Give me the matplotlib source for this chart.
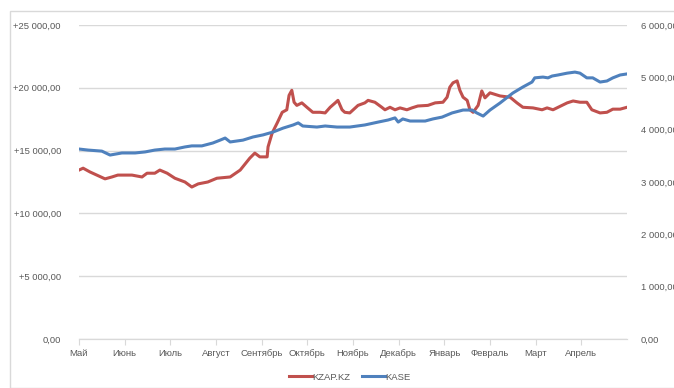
import matplotlib
matplotlib.use("Agg")
import matplotlib.pyplot as plt
from matplotlib.patches import Rectangle
from matplotlib.ticker import FuncFormatter, FixedLocator

# Months (tick labels), x positions are months since 1 May
months = ["Май", "Июнь", "Июль", "Август", "Сентябрь", "Октябрь",
          "Ноябрь", "Декабрь", "Январь", "Февраль", "Март", "Апрель"]

# KZAP.KZ (left axis)
kzap_x = [0.00, 0.09, 0.24, 0.39, 0.57, 0.72, 0.85, 1.16, 1.38, 1.49, 1.66, 1.77,
          1.93, 2.10, 2.32, 2.47, 2.61, 2.82, 3.02, 3.31, 3.53, 3.74, 3.85, 3.96,
          4.12, 4.14, 4.23, 4.34, 4.45, 4.55, 4.60, 4.66, 4.71, 4.77, 4.88, 4.99,
          5.12, 5.28, 5.39, 5.50, 5.61, 5.67, 5.76, 5.82, 5.93, 6.11, 6.26, 6.33,
          6.48, 6.63, 6.70, 6.81, 6.92, 7.03, 7.18, 7.29, 7.42, 7.64, 7.80, 7.97,
          8.06, 8.12, 8.19, 8.28, 8.34, 8.41, 8.50, 8.56, 8.63, 8.74, 8.82, 8.89,
          9.00, 9.22, 9.44, 9.59, 9.72, 9.94, 10.14, 10.25, 10.38, 10.69, 10.82,
          10.97, 11.12, 11.23, 11.41, 11.56, 11.69, 11.85, 12.00]
kzap = [13450, 13600, 13300, 13050, 12750, 12900, 13050, 13050, 12900, 13200, 13200, 13450,
        13200, 12800, 12500, 12100, 12350, 12500, 12800, 12900, 13450, 14400, 14800, 14500,
        14500, 15300, 16400, 17200, 18050, 18250, 19400, 19800, 18850, 18600, 18800, 18450,
        18050, 18050, 18000, 18450, 18800, 19000, 18250, 18050, 18000, 18600, 18800, 19000,
        18850, 18450, 18250, 18450, 18250, 18400, 18250, 18400, 18550, 18600, 18800, 18850,
        19250, 20050, 20400, 20550, 19800, 19250, 19000, 18250, 18050, 18600, 19750, 19200,
        19600, 19350, 19250, 18800, 18450, 18400, 18250, 18400, 18250, 18800, 18950,
        18850, 18850, 18250, 18000, 18050, 18300, 18300, 18450]

# KASE (right axis)
kase_x = [0.00, 0.20, 0.50, 0.68, 0.94, 1.23, 1.45, 1.66, 1.88, 2.10, 2.32, 2.47,
          2.69, 2.93, 3.09, 3.20, 3.31, 3.59, 3.81, 4.03, 4.25, 4.47, 4.69, 4.80,
          4.90, 5.21, 5.39, 5.65, 5.93, 6.26, 6.55, 6.77, 6.92, 6.99, 7.09, 7.25,
          7.58, 7.75, 7.95, 8.17, 8.41, 8.61, 8.71, 8.85, 9.00, 9.22, 9.50, 9.72,
          9.92, 9.98, 10.16, 10.27, 10.36, 10.49, 10.69, 10.86, 10.97, 11.12, 11.25,
          11.41, 11.56, 11.69, 11.85, 12.00]
kase = [3630, 3610, 3590, 3515, 3555, 3555, 3575, 3610, 3630, 3630, 3670, 3690,
        3690, 3745, 3800, 3840, 3765, 3800, 3860, 3900, 3955, 4030, 4090, 4130,
        4070, 4050, 4070, 4050, 4050, 4090, 4145, 4185, 4225, 4145, 4205, 4165,
        4165, 4205, 4240, 4320, 4375, 4375, 4320, 4260, 4375, 4510, 4700, 4815,
        4910, 4990, 5005, 4990, 5025, 5045, 5080, 5100, 5080, 4990, 4990,
        4910, 4930, 4990, 5045, 5065]

red = "#c0504d"
blue = "#4f81bd"
grey = "#595959"
grid = "#d9d9d9"

plt.rcParams["font.family"] = ["Liberation Sans", "DejaVu Sans"]

fig = plt.figure(figsize=(6.74, 3.88), dpi=100)
ax = fig.add_axes([79 / 674, 1 - 339 / 388, 548 / 674, 314 / 388])
ax2 = ax.twinx()

l1, = ax.plot(kzap_x, kzap, color=red, lw=2.2, label="KZAP.KZ")
l2, = ax2.plot(kase_x, kase, color=blue, lw=2.2, label="KASE")

ax.set_xlim(0, 12)
ax.set_ylim(0, 25000)
ax2.set_ylim(0, 6000)
ax.set_yticks(range(0, 25001, 5000))
ax2.set_yticks(range(0, 6001, 1000))


def left_fmt(v, pos):
    s = f"{v:,.2f}".replace(",", " ").replace(".", ",")
    return s if v == 0 else "+" + s


def right_fmt(v, pos):
    return f"{v:,.2f}".replace(",", " ").replace(".", ",")


ax.yaxis.set_major_formatter(FuncFormatter(left_fmt))
ax2.yaxis.set_major_formatter(FuncFormatter(right_fmt))

ax.xaxis.set_major_locator(FixedLocator(range(len(months))))
ax.set_xticklabels(months)

ax.grid(axis="y", color=grid, lw=1)
ax.set_axisbelow(True)
for a in (ax, ax2):
    for side in ("top", "left", "right"):
        a.spines[side].set_visible(False)
    a.spines["bottom"].set_color(grid)
ax.tick_params(axis="y", length=0, pad=13, labelsize=6.8, labelcolor=grey)
ax2.tick_params(axis="y", length=0, pad=10, labelsize=6.8, labelcolor=grey)
ax.tick_params(axis="x", length=4, color=grid, pad=3, labelsize=6.8, labelcolor=grey)

fig.legend(handles=[l1, l2], loc="center", bbox_to_anchor=(350 / 674, 1 - 377 / 388),
           ncol=2, frameon=False, fontsize=6.8, labelcolor=grey,
           handlelength=2.4, handletextpad=0.1, columnspacing=1.2)

# outer chart border
fig.patches.append(Rectangle((10 / 674, 0), 1, 1 - 11 / 388, transform=fig.transFigure,
                             fill=False, edgecolor=grid, lw=1))

fig.savefig("out.png", dpi=100)
